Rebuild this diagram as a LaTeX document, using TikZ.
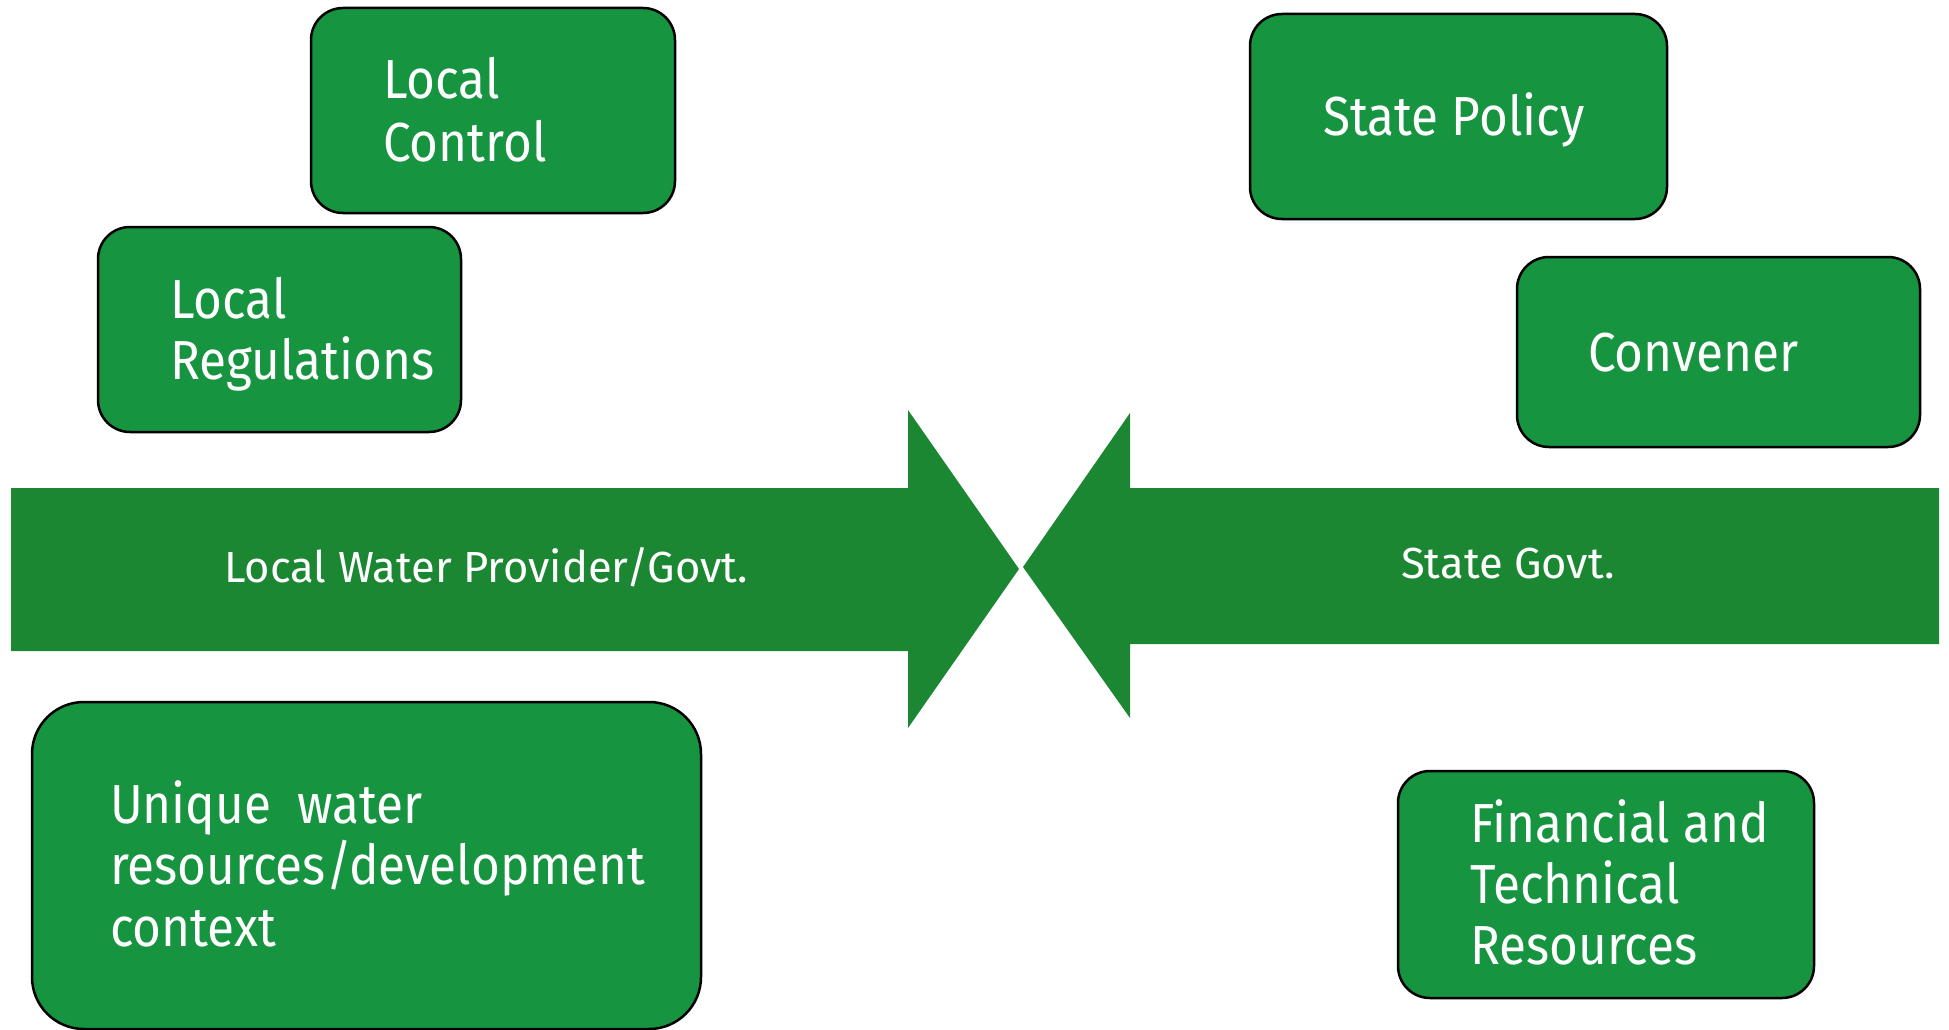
\documentclass[tikz,border=0pt]{standalone}
\usepackage{fontspec}
\setmainfont{Fira Sans}[FakeStretch=0.9]
\newfontfamily\arrowfont{Fira Sans}
\definecolor{boxgreen}{RGB}{22,148,64}
\definecolor{arrowgreen}{RGB}{27,135,51}
\begin{document}
\begin{tikzpicture}[x=1pt,y=-1pt,
  gbox/.style={draw=black,line width=2.5pt,fill=boxgreen,rounded corners=32pt},
  btext/.style={anchor=base west,inner sep=0pt,text=white,font=\fontsize{55}{62}\selectfont,align=left},
  atext/.style={anchor=base west,inner sep=0pt,text=white,font=\arrowfont\fontsize{43.5}{50}\selectfont}]
\useasboundingbox (0,0) rectangle (1949,1030);
% arrows
\fill[arrowgreen] (11,488) -- (908,488) -- (908,410) -- (1019,569) -- (908,728) -- (908,651) -- (11,651) -- cycle;
\fill[arrowgreen] (1939,488) -- (1130,488) -- (1130,413) -- (1023,567) -- (1130,718) -- (1130,644) -- (1939,644) -- cycle;
\node[atext] (lwp) at (224,582) {Local Water Provider/Govt.};
\node[atext] (sg) at (1401,578) {State Govt.};
% boxes
\draw[gbox] (311,8) rectangle (675,213);
\node[btext] (lc1) at (383,99) {Local};
\node[btext] (lc2) at (383,161) {Control};
\draw[gbox] (98,227) rectangle (461,432);
\node[btext] (lr1) at (170,318) {Local};
\node[btext] (lr2) at (170,379) {Regulations};
\draw[gbox] (1250,14) rectangle (1667,219);
\node[btext] (sp) at (1323,136) {State Policy};
\draw[gbox] (1517,257) rectangle (1920,447);
\node[btext] (cv) at (1588,371) {Convener};
\draw[gbox,rounded corners=52pt] (32,702) rectangle (701,1029);
\node[btext] (u1) at (110,823) {Unique\ \ water};
\node[btext] (u2) at (110,884) {resources/development};
\node[btext] (u3) at (110,946) {context};
\draw[gbox] (1398,771) rectangle (1814,998);
\node[btext] (f1) at (1470,842) {Financial and};
\node[btext] (f2) at (1470,903) {Technical};
\node[btext] (f3) at (1470,964) {Resources};
\end{tikzpicture}
\end{document}
